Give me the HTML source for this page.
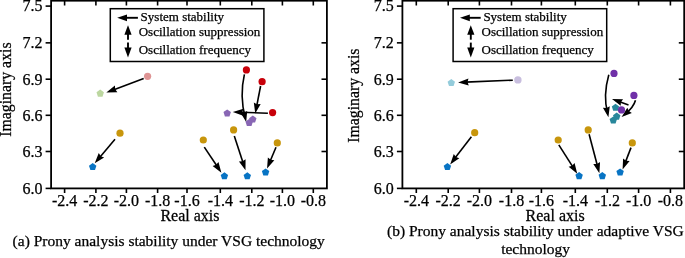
<!DOCTYPE html>
<html><head><meta charset="utf-8"><style>
html,body{margin:0;padding:0;background:#fff;overflow:hidden}
svg{display:block;will-change:transform}
text{fill:#000;stroke:#000;stroke-width:0.25px}
</style></head><body>
<svg width="685" height="258" viewBox="0 0 685 258">
<rect width="685" height="258" fill="#fff"/>
<rect x="51.1" y="0.7" width="275.79999999999995" height="187.70000000000002" fill="none" stroke="#000" stroke-width="1.8"/>
<line x1="45.60" y1="6.10" x2="51.10" y2="6.10" stroke="#000" stroke-width="1.6"/>
<line x1="45.60" y1="42.85" x2="51.10" y2="42.85" stroke="#000" stroke-width="1.6"/>
<line x1="45.60" y1="79.20" x2="51.10" y2="79.20" stroke="#000" stroke-width="1.6"/>
<line x1="45.60" y1="115.30" x2="51.10" y2="115.30" stroke="#000" stroke-width="1.6"/>
<line x1="45.60" y1="151.50" x2="51.10" y2="151.50" stroke="#000" stroke-width="1.6"/>
<line x1="45.60" y1="188.40" x2="51.10" y2="188.40" stroke="#000" stroke-width="1.6"/>
<line x1="321.50" y1="42.85" x2="326.90" y2="42.85" stroke="#000" stroke-width="1.6"/>
<line x1="321.50" y1="79.20" x2="326.90" y2="79.20" stroke="#000" stroke-width="1.6"/>
<line x1="321.50" y1="115.30" x2="326.90" y2="115.30" stroke="#000" stroke-width="1.6"/>
<line x1="321.50" y1="151.50" x2="326.90" y2="151.50" stroke="#000" stroke-width="1.6"/>
<line x1="64.60" y1="188.40" x2="64.60" y2="193.00" stroke="#000" stroke-width="1.6"/>
<line x1="64.60" y1="0.70" x2="64.60" y2="5.50" stroke="#000" stroke-width="1.6"/>
<line x1="95.90" y1="188.40" x2="95.90" y2="193.00" stroke="#000" stroke-width="1.6"/>
<line x1="95.90" y1="0.70" x2="95.90" y2="5.50" stroke="#000" stroke-width="1.6"/>
<line x1="126.40" y1="188.40" x2="126.40" y2="193.00" stroke="#000" stroke-width="1.6"/>
<line x1="126.40" y1="0.70" x2="126.40" y2="5.50" stroke="#000" stroke-width="1.6"/>
<line x1="157.60" y1="188.40" x2="157.60" y2="193.00" stroke="#000" stroke-width="1.6"/>
<line x1="157.60" y1="0.70" x2="157.60" y2="5.50" stroke="#000" stroke-width="1.6"/>
<line x1="187.00" y1="188.40" x2="187.00" y2="193.00" stroke="#000" stroke-width="1.6"/>
<line x1="187.00" y1="0.70" x2="187.00" y2="5.50" stroke="#000" stroke-width="1.6"/>
<line x1="220.30" y1="188.40" x2="220.30" y2="193.00" stroke="#000" stroke-width="1.6"/>
<line x1="220.30" y1="0.70" x2="220.30" y2="5.50" stroke="#000" stroke-width="1.6"/>
<line x1="251.80" y1="188.40" x2="251.80" y2="193.00" stroke="#000" stroke-width="1.6"/>
<line x1="251.80" y1="0.70" x2="251.80" y2="5.50" stroke="#000" stroke-width="1.6"/>
<line x1="282.40" y1="188.40" x2="282.40" y2="193.00" stroke="#000" stroke-width="1.6"/>
<line x1="282.40" y1="0.70" x2="282.40" y2="5.50" stroke="#000" stroke-width="1.6"/>
<line x1="313.30" y1="188.40" x2="313.30" y2="193.00" stroke="#000" stroke-width="1.6"/>
<line x1="313.30" y1="0.70" x2="313.30" y2="5.50" stroke="#000" stroke-width="1.6"/>
<text x="42.50" y="11.10" font-family="Liberation Serif" font-size="16" text-anchor="end">7.5</text>
<text x="42.50" y="48.45" font-family="Liberation Serif" font-size="16" text-anchor="end">7.2</text>
<text x="42.50" y="84.80" font-family="Liberation Serif" font-size="16" text-anchor="end">6.9</text>
<text x="42.50" y="120.90" font-family="Liberation Serif" font-size="16" text-anchor="end">6.6</text>
<text x="42.50" y="157.10" font-family="Liberation Serif" font-size="16" text-anchor="end">6.3</text>
<text x="42.50" y="194.00" font-family="Liberation Serif" font-size="16" text-anchor="end">6.0</text>
<text x="64.60" y="205.60" font-family="Liberation Serif" font-size="16" text-anchor="middle">-2.4</text>
<text x="95.90" y="205.60" font-family="Liberation Serif" font-size="16" text-anchor="middle">-2.2</text>
<text x="126.40" y="205.60" font-family="Liberation Serif" font-size="16" text-anchor="middle">-2.0</text>
<text x="157.60" y="205.60" font-family="Liberation Serif" font-size="16" text-anchor="middle">-1.8</text>
<text x="187.00" y="205.60" font-family="Liberation Serif" font-size="16" text-anchor="middle">-1.6</text>
<text x="220.30" y="205.60" font-family="Liberation Serif" font-size="16" text-anchor="middle">-1.4</text>
<text x="251.80" y="205.60" font-family="Liberation Serif" font-size="16" text-anchor="middle">-1.2</text>
<text x="282.40" y="205.60" font-family="Liberation Serif" font-size="16" text-anchor="middle">-1.0</text>
<text x="313.30" y="205.60" font-family="Liberation Serif" font-size="16" text-anchor="middle">-0.8</text>
<text transform="translate(189.9,221) scale(1,1.06)" font-family="Liberation Serif" font-size="16.0" text-anchor="middle">Real axis</text>
<text transform="translate(11.0,89.6) rotate(-90) scale(1,1.07)" font-family="Liberation Serif" font-size="15.8" text-anchor="middle">Imaginary axis</text>
<rect x="110.3" y="8.7" width="153.6" height="52.8" fill="#fff" stroke="#000" stroke-width="1.5"/>
<line x1="137.90" y1="17.80" x2="124.06" y2="17.80" stroke="#000" stroke-width="1.9"/>
<polygon points="117.20,17.80 127.00,14.40 127.00,17.80 127.00,21.20" fill="#000"/>
<line x1="128.00" y1="39.70" x2="128.00" y2="31.85" stroke="#000" stroke-width="1.9"/>
<polygon points="128.00,25.20 131.60,34.70 128.00,34.70 124.40,34.70" fill="#000"/>
<line x1="128.00" y1="42.60" x2="128.00" y2="50.60" stroke="#000" stroke-width="1.9"/>
<polygon points="128.00,57.60 124.40,47.60 128.00,47.60 131.60,47.60" fill="#000"/>
<text x="140.6" y="21.4" font-family="Liberation Serif" font-size="13">System stability</text>
<text x="138.7" y="35.6" font-family="Liberation Serif" font-size="13">Oscillation suppression</text>
<text x="138.7" y="54.0" font-family="Liberation Serif" font-size="13">Oscillation frequency</text>
<line x1="143.70" y1="78.40" x2="113.21" y2="90.00" stroke="#000" stroke-width="1.6"/>
<polygon points="106.34,92.61 114.91,85.61 115.17,89.25 117.40,92.15" fill="#000"/>
<path d="M244.4,74.4 C240.8,90 241.6,104 245.2,118" fill="none" stroke="#000" stroke-width="1.6"/>
<polygon points="246.20,122.00 240.37,112.59 244.02,112.80 247.19,110.98" fill="#000"/>
<line x1="260.60" y1="86.00" x2="256.64" y2="106.38" stroke="#000" stroke-width="1.6"/>
<polygon points="255.24,113.59 253.81,102.62 257.04,104.32 260.68,103.95" fill="#000"/>
<line x1="267.90" y1="113.30" x2="240.14" y2="112.18" stroke="#000" stroke-width="1.6"/>
<polygon points="232.80,111.89 243.43,108.81 242.24,112.27 243.15,115.81" fill="#000"/>
<line x1="204.30" y1="147.10" x2="217.29" y2="166.55" stroke="#000" stroke-width="1.6"/>
<polygon points="221.38,172.66 212.63,165.88 216.13,164.81 218.46,161.99" fill="#000"/>
<line x1="234.30" y1="136.00" x2="243.22" y2="163.31" stroke="#000" stroke-width="1.6"/>
<polygon points="245.50,170.30 238.91,161.41 242.57,161.32 245.57,159.23" fill="#000"/>
<line x1="276.00" y1="147.20" x2="269.89" y2="161.81" stroke="#000" stroke-width="1.6"/>
<polygon points="267.06,168.59 267.88,157.55 270.70,159.87 274.34,160.25" fill="#000"/>
<line x1="115.00" y1="139.20" x2="99.43" y2="157.74" stroke="#000" stroke-width="1.6"/>
<polygon points="94.70,163.37 98.77,153.08 100.78,156.14 104.13,157.58" fill="#000"/>
<circle cx="147.6" cy="76.3" r="3.6" fill="#DE9494"/>
<polygon points="100.20,89.60 103.91,92.29 102.49,96.66 97.91,96.66 96.49,92.29" fill="#BCD7A0"/>
<circle cx="246.4" cy="69.9" r="3.6" fill="#C8000A"/>
<circle cx="262.1" cy="81.7" r="3.6" fill="#C8000A"/>
<circle cx="272.6" cy="112.6" r="3.6" fill="#C8000A"/>
<polygon points="227.20,109.40 230.91,112.09 229.49,116.46 224.91,116.46 223.49,112.09" fill="#8866B4"/>
<polygon points="249.20,118.90 252.91,121.59 251.49,125.96 246.91,125.96 245.49,121.59" fill="#8866B4"/>
<polygon points="252.80,115.50 256.51,118.19 255.09,122.56 250.51,122.56 249.09,118.19" fill="#8866B4"/>
<circle cx="203.3" cy="140.0" r="3.6" fill="#C8960C"/>
<circle cx="233.6" cy="129.9" r="3.6" fill="#C8960C"/>
<circle cx="277.3" cy="142.9" r="3.6" fill="#C8960C"/>
<circle cx="120.0" cy="133.2" r="3.6" fill="#C8960C"/>
<polygon points="224.40,172.30 228.11,174.99 226.69,179.36 222.11,179.36 220.69,174.99" fill="#0874C4"/>
<polygon points="247.30,172.20 251.01,174.89 249.59,179.26 245.01,179.26 243.59,174.89" fill="#0874C4"/>
<polygon points="265.60,168.40 269.31,171.09 267.89,175.46 263.31,175.46 261.89,171.09" fill="#0874C4"/>
<polygon points="92.70,163.00 96.41,165.69 94.99,170.06 90.41,170.06 88.99,165.69" fill="#0874C4"/>
<rect x="402.4" y="0.7" width="281.80000000000007" height="187.70000000000002" fill="none" stroke="#000" stroke-width="1.8"/>
<line x1="396.90" y1="6.10" x2="402.40" y2="6.10" stroke="#000" stroke-width="1.6"/>
<line x1="396.90" y1="42.85" x2="402.40" y2="42.85" stroke="#000" stroke-width="1.6"/>
<line x1="396.90" y1="79.20" x2="402.40" y2="79.20" stroke="#000" stroke-width="1.6"/>
<line x1="396.90" y1="115.30" x2="402.40" y2="115.30" stroke="#000" stroke-width="1.6"/>
<line x1="396.90" y1="151.50" x2="402.40" y2="151.50" stroke="#000" stroke-width="1.6"/>
<line x1="396.90" y1="188.40" x2="402.40" y2="188.40" stroke="#000" stroke-width="1.6"/>
<line x1="678.80" y1="42.85" x2="684.20" y2="42.85" stroke="#000" stroke-width="1.6"/>
<line x1="678.80" y1="79.20" x2="684.20" y2="79.20" stroke="#000" stroke-width="1.6"/>
<line x1="678.80" y1="115.30" x2="684.20" y2="115.30" stroke="#000" stroke-width="1.6"/>
<line x1="678.80" y1="151.50" x2="684.20" y2="151.50" stroke="#000" stroke-width="1.6"/>
<line x1="416.30" y1="188.40" x2="416.30" y2="193.00" stroke="#000" stroke-width="1.6"/>
<line x1="416.30" y1="0.70" x2="416.30" y2="5.50" stroke="#000" stroke-width="1.6"/>
<line x1="448.20" y1="188.40" x2="448.20" y2="193.00" stroke="#000" stroke-width="1.6"/>
<line x1="448.20" y1="0.70" x2="448.20" y2="5.50" stroke="#000" stroke-width="1.6"/>
<line x1="479.40" y1="188.40" x2="479.40" y2="193.00" stroke="#000" stroke-width="1.6"/>
<line x1="479.40" y1="0.70" x2="479.40" y2="5.50" stroke="#000" stroke-width="1.6"/>
<line x1="511.50" y1="188.40" x2="511.50" y2="193.00" stroke="#000" stroke-width="1.6"/>
<line x1="511.50" y1="0.70" x2="511.50" y2="5.50" stroke="#000" stroke-width="1.6"/>
<line x1="541.40" y1="188.40" x2="541.40" y2="193.00" stroke="#000" stroke-width="1.6"/>
<line x1="541.40" y1="0.70" x2="541.40" y2="5.50" stroke="#000" stroke-width="1.6"/>
<line x1="575.30" y1="188.40" x2="575.30" y2="193.00" stroke="#000" stroke-width="1.6"/>
<line x1="575.30" y1="0.70" x2="575.30" y2="5.50" stroke="#000" stroke-width="1.6"/>
<line x1="607.30" y1="188.40" x2="607.30" y2="193.00" stroke="#000" stroke-width="1.6"/>
<line x1="607.30" y1="0.70" x2="607.30" y2="5.50" stroke="#000" stroke-width="1.6"/>
<line x1="638.60" y1="188.40" x2="638.60" y2="193.00" stroke="#000" stroke-width="1.6"/>
<line x1="638.60" y1="0.70" x2="638.60" y2="5.50" stroke="#000" stroke-width="1.6"/>
<line x1="670.40" y1="188.40" x2="670.40" y2="193.00" stroke="#000" stroke-width="1.6"/>
<line x1="670.40" y1="0.70" x2="670.40" y2="5.50" stroke="#000" stroke-width="1.6"/>
<text x="393.80" y="11.10" font-family="Liberation Serif" font-size="16" text-anchor="end">7.5</text>
<text x="393.80" y="48.45" font-family="Liberation Serif" font-size="16" text-anchor="end">7.2</text>
<text x="393.80" y="84.80" font-family="Liberation Serif" font-size="16" text-anchor="end">6.9</text>
<text x="393.80" y="120.90" font-family="Liberation Serif" font-size="16" text-anchor="end">6.6</text>
<text x="393.80" y="157.10" font-family="Liberation Serif" font-size="16" text-anchor="end">6.3</text>
<text x="393.80" y="194.00" font-family="Liberation Serif" font-size="16" text-anchor="end">6.0</text>
<text x="416.30" y="205.60" font-family="Liberation Serif" font-size="16" text-anchor="middle">-2.4</text>
<text x="448.20" y="205.60" font-family="Liberation Serif" font-size="16" text-anchor="middle">-2.2</text>
<text x="479.40" y="205.60" font-family="Liberation Serif" font-size="16" text-anchor="middle">-2.0</text>
<text x="511.50" y="205.60" font-family="Liberation Serif" font-size="16" text-anchor="middle">-1.8</text>
<text x="541.40" y="205.60" font-family="Liberation Serif" font-size="16" text-anchor="middle">-1.6</text>
<text x="575.30" y="205.60" font-family="Liberation Serif" font-size="16" text-anchor="middle">-1.4</text>
<text x="607.30" y="205.60" font-family="Liberation Serif" font-size="16" text-anchor="middle">-1.2</text>
<text x="638.60" y="205.60" font-family="Liberation Serif" font-size="16" text-anchor="middle">-1.0</text>
<text x="670.40" y="205.60" font-family="Liberation Serif" font-size="16" text-anchor="middle">-0.8</text>
<text transform="translate(555.1,221) scale(1,1.06)" font-family="Liberation Serif" font-size="16.0" text-anchor="middle">Real axis</text>
<text transform="translate(359.0,95.65) rotate(-90) scale(1,1.07)" font-family="Liberation Serif" font-size="15.8" text-anchor="middle">Imaginary axis</text>
<rect x="453.1" y="8.7" width="153.6" height="52.8" fill="#fff" stroke="#000" stroke-width="1.5"/>
<line x1="480.70" y1="17.80" x2="466.86" y2="17.80" stroke="#000" stroke-width="1.9"/>
<polygon points="460.00,17.80 469.80,14.40 469.80,17.80 469.80,21.20" fill="#000"/>
<line x1="470.80" y1="39.70" x2="470.80" y2="31.85" stroke="#000" stroke-width="1.9"/>
<polygon points="470.80,25.20 474.40,34.70 470.80,34.70 467.20,34.70" fill="#000"/>
<line x1="470.80" y1="42.60" x2="470.80" y2="50.60" stroke="#000" stroke-width="1.9"/>
<polygon points="470.80,57.60 467.20,47.60 470.80,47.60 474.40,47.60" fill="#000"/>
<text x="483.4" y="21.4" font-family="Liberation Serif" font-size="13">System stability</text>
<text x="481.5" y="35.6" font-family="Liberation Serif" font-size="13">Oscillation suppression</text>
<text x="481.5" y="54.0" font-family="Liberation Serif" font-size="13">Oscillation frequency</text>
<line x1="512.80" y1="80.20" x2="465.44" y2="82.11" stroke="#000" stroke-width="1.6"/>
<polygon points="458.10,82.41 468.45,78.49 467.54,82.03 468.73,85.48" fill="#000"/>
<path d="M608.8,74.8 C604.5,90 604.8,103 607.6,113.3" fill="none" stroke="#000" stroke-width="1.6"/>
<polygon points="608.40,117.30 602.91,107.69 606.55,108.03 609.77,106.32" fill="#000"/>
<path d="M635.5,100.2 C634,106 629,111 624.6,114.6" fill="none" stroke="#000" stroke-width="1.6"/>
<polygon points="621.60,117.10 627.33,107.63 628.80,110.98 631.87,112.97" fill="#000"/>
<line x1="628.50" y1="104.90" x2="618.92" y2="101.47" stroke="#000" stroke-width="1.6"/>
<polygon points="612.00,99.00 623.07,99.24 620.90,102.18 620.71,105.83" fill="#000"/>
<line x1="558.80" y1="144.90" x2="573.30" y2="167.59" stroke="#000" stroke-width="1.6"/>
<polygon points="577.25,173.78 568.65,166.82 572.17,165.82 574.55,163.05" fill="#000"/>
<line x1="589.10" y1="134.30" x2="597.48" y2="166.05" stroke="#000" stroke-width="1.6"/>
<polygon points="599.36,173.15 593.29,163.89 596.95,164.02 600.06,162.11" fill="#000"/>
<line x1="631.00" y1="147.60" x2="625.23" y2="162.64" stroke="#000" stroke-width="1.6"/>
<polygon points="622.60,169.51 623.09,158.45 625.98,160.68 629.63,160.96" fill="#000"/>
<line x1="471.40" y1="136.80" x2="454.63" y2="158.59" stroke="#000" stroke-width="1.6"/>
<polygon points="450.15,164.41 453.78,153.95 455.91,156.92 459.32,158.22" fill="#000"/>
<circle cx="517.9" cy="79.9" r="3.7" fill="#C8BEDE"/>
<polygon points="451.30,79.00 455.01,81.69 453.59,86.06 449.01,86.06 447.59,81.69" fill="#94CCDB"/>
<polygon points="615.50,103.80 619.21,106.49 617.79,110.86 613.21,110.86 611.79,106.49" fill="#28879B"/>
<polygon points="613.30,116.40 617.01,119.09 615.59,123.46 611.01,123.46 609.59,119.09" fill="#28879B"/>
<polygon points="616.70,112.60 620.41,115.29 618.99,119.66 614.41,119.66 612.99,115.29" fill="#28879B"/>
<circle cx="614.0" cy="73.4" r="3.6" fill="#7030A8"/>
<circle cx="633.9" cy="95.4" r="3.6" fill="#7030A8"/>
<circle cx="621.5" cy="109.9" r="3.6" fill="#7030A8"/>
<circle cx="558.2" cy="140.0" r="3.6" fill="#C8960C"/>
<circle cx="588.2" cy="129.9" r="3.6" fill="#C8960C"/>
<circle cx="632.3" cy="142.9" r="3.6" fill="#C8960C"/>
<circle cx="474.7" cy="132.7" r="3.6" fill="#C8960C"/>
<polygon points="579.10,172.10 582.81,174.79 581.39,179.16 576.81,179.16 575.39,174.79" fill="#0874C4"/>
<polygon points="602.30,172.10 606.01,174.79 604.59,179.16 600.01,179.16 598.59,174.79" fill="#0874C4"/>
<polygon points="620.10,168.40 623.81,171.09 622.39,175.46 617.81,175.46 616.39,171.09" fill="#0874C4"/>
<polygon points="447.40,163.00 451.11,165.69 449.69,170.06 445.11,170.06 443.69,165.69" fill="#0874C4"/>
<text x="12.6" y="245.7" font-family="Liberation Serif" font-size="15.5">(a) Prony analysis stability under VSG technology</text>
<text x="387.0" y="235.8" font-family="Liberation Serif" font-size="15.5">(b) Prony analysis stability under adaptive VSG</text>
<text x="535.6" y="254.1" font-family="Liberation Serif" font-size="15.5" text-anchor="middle">technology</text>
</svg>
</body></html>
